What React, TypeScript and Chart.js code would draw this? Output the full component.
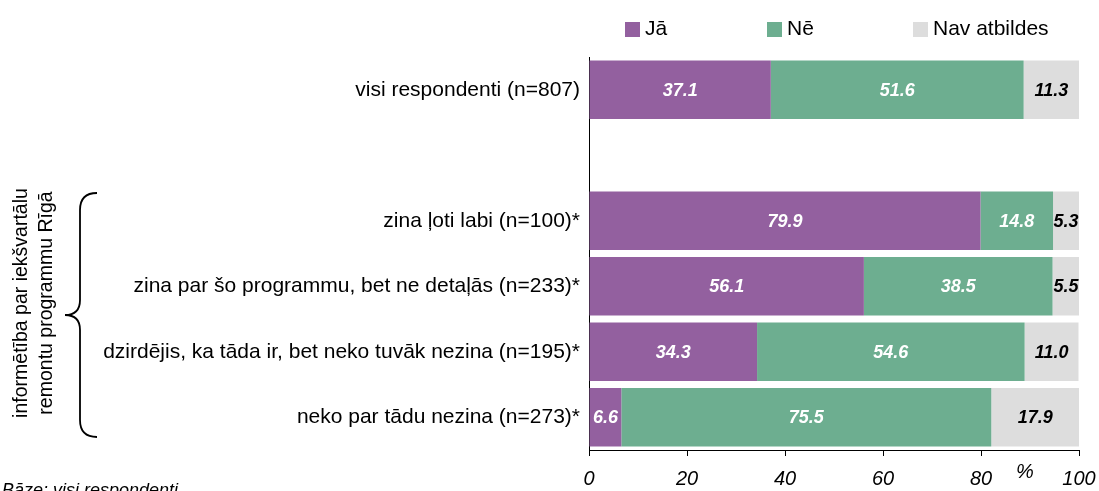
import React, { useEffect, useRef } from "react";
import { Chart, registerables } from "chart.js";

Chart.register(...registerables);

const categories = [
  "visi respondenti (n=807)",
  "",
  "zina ļoti labi (n=100)*",
  "zina par šo programmu, bet ne detaļās (n=233)*",
  "dzirdējis, ka tāda ir, bet neko tuvāk nezina (n=195)*",
  "neko par tādu nezina (n=273)*",
];
const seriesNames = ["Jā", "Nē", "Nav atbildes"];
const jaValues = [37.1, null, 79.9, 56.1, 34.3, 6.6];
const neValues = [51.6, null, 14.8, 38.5, 54.6, 75.5];
const navValues = [11.3, null, 5.3, 5.5, 11.0, 17.9];
const xTicks = [0, 20, 40, 60, 80, 100];
const groupTitle = ["informētība par iekšvartālu", "remontu programmu Rīgā"];
const baseNote = "Bāze: visi respondenti";
const unitLabel = "%";

const COLORS = ["#93609F", "#6DAE90", "#DDDDDD"];
const LABEL_COLORS = ["#FFFFFF", "#FFFFFF", "#000000"];
const FONT = "'Liberation Sans', Arial, sans-serif";

const extrasPlugin = {
  id: "extras",
  afterDatasetsDraw(chart: any) {
    const ctx = chart.ctx;
    ctx.save();
    ctx.font = `italic bold 18px ${FONT}`;
    ctx.textAlign = "center";
    ctx.textBaseline = "middle";
    chart.data.datasets.forEach((ds: any, di: number) => {
      const meta = chart.getDatasetMeta(di);
      meta.data.forEach((el: any, i: number) => {
        const v = ds.data[i];
        if (v === null || v === undefined) return;
        ctx.fillStyle = LABEL_COLORS[di];
        ctx.fillText(v.toFixed(1), (el.x + el.base) / 2, el.y + 1);
      });
    });
    ctx.restore();
  },
  afterDraw(chart: any) {
    const ctx = chart.ctx;
    const area = chart.chartArea;
    ctx.save();
    // legend
    const legendX = [625, 767, 913];
    ctx.font = `21px ${FONT}`;
    ctx.textAlign = "left";
    ctx.textBaseline = "middle";
    seriesNames.forEach((name, i) => {
      ctx.fillStyle = COLORS[i];
      ctx.fillRect(legendX[i], 22, 15, 15);
      ctx.fillStyle = "#000";
      ctx.fillText(name, legendX[i] + 20, 29);
    });
    // percent unit
    ctx.font = `italic 20px ${FONT}`;
    ctx.textAlign = "center";
    ctx.fillText(unitLabel, area.right - 54, 472);
    // base note
    ctx.textAlign = "left";
    ctx.textBaseline = "alphabetic";
    ctx.font = `italic 18px ${FONT}`;
    ctx.fillText(baseNote, 2, 496);
    // brace
    ctx.strokeStyle = "#000";
    ctx.lineWidth = 1.8;
    ctx.beginPath();
    ctx.moveTo(97, 193);
    ctx.quadraticCurveTo(80, 193, 80, 210);
    ctx.lineTo(80, 300);
    ctx.quadraticCurveTo(80, 315, 65, 315);
    ctx.quadraticCurveTo(80, 315, 80, 330);
    ctx.lineTo(80, 420);
    ctx.quadraticCurveTo(80, 437, 97, 437);
    ctx.stroke();
    // rotated group title
    ctx.save();
    ctx.translate(0, 303);
    ctx.rotate(-Math.PI / 2);
    ctx.font = `19.5px ${FONT}`;
    ctx.textAlign = "center";
    ctx.textBaseline = "middle";
    ctx.fillStyle = "#000";
    ctx.fillText(groupTitle[0], 0, 22);
    ctx.fillText(groupTitle[1], 0, 47);
    ctx.restore();
    ctx.restore();
  },
};

export default function App() {
  const ref = useRef<HTMLCanvasElement>(null);
  useEffect(() => {
    document.body.style.margin = "0";
    const chart = new Chart(ref.current!, {
      type: "bar",
      data: {
        labels: categories,
        datasets: [jaValues, neValues, navValues].map((d, i) => ({
          label: seriesNames[i],
          data: d,
          backgroundColor: COLORS[i],
          borderWidth: 0,
          barPercentage: 0.89,
          categoryPercentage: 1,
        })),
      },
      options: {
        indexAxis: "y",
        animation: false,
        responsive: false,
        devicePixelRatio: 1,
        layout: { padding: { top: 57, right: 20, bottom: 0, left: 0 } },
        plugins: { legend: { display: false }, tooltip: { enabled: false } },
        scales: {
          x: {
            stacked: true,
            min: 0,
            max: 100,
            afterBuildTicks: (s: any) => {
              s.ticks = xTicks.map((v) => ({ value: v }));
            },
            afterFit: (s: any) => {
              s.height = 41;
              s.paddingLeft = 0;
              s.paddingRight = 0;
            },
            ticks: {
              font: { family: FONT, size: 20, style: "italic" },
              color: "#000",
              padding: 11,
              maxRotation: 0,
            },
            grid: {
              display: true,
              drawOnChartArea: false,
              drawTicks: true,
              tickLength: 6,
              color: "#000",
            },
            border: { display: true, color: "#000", width: 1 },
          },
          y: {
            stacked: true,
            afterFit: (s: any) => {
              s.width = 589;
              s.paddingTop = 0;
              s.paddingBottom = 0;
            },
            ticks: {
              font: { family: FONT, size: 21 },
              color: "#000",
              padding: 9,
              autoSkip: false,
            },
            grid: { display: false, drawTicks: false },
            border: { display: true, color: "#000", width: 1 },
          },
        },
      },
      plugins: [extrasPlugin],
    });
    return () => chart.destroy();
  }, []);
  return (
    <div style={{ position: "absolute", left: 0, top: 0, width: 1099, height: 491 }}>
      <canvas ref={ref} width={1099} height={491} />
    </div>
  );
}
